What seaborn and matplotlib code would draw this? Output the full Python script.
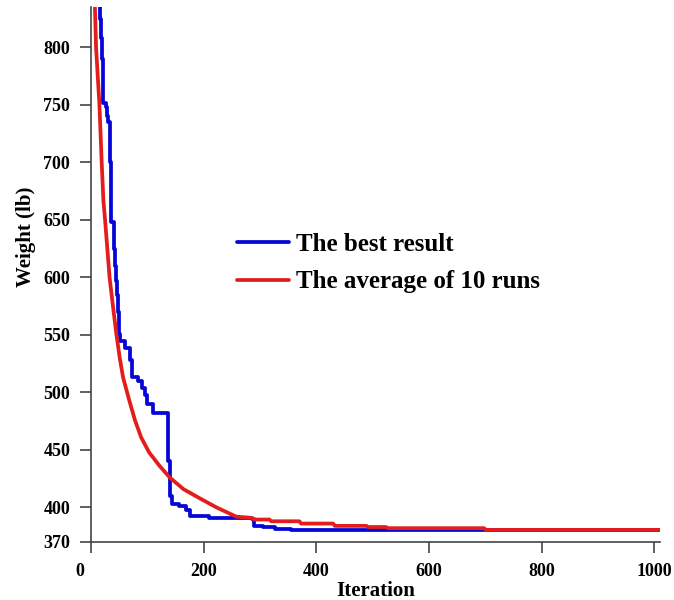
import matplotlib
matplotlib.use("Agg")
import matplotlib.pyplot as plt
import matplotlib.transforms as mtransforms
import pandas as pd
import seaborn as sns

# Best run: iteration at which each new best weight was found (step curve)
best_iter = [0, 14, 16, 18, 20, 21, 22, 26, 28, 30, 33, 36, 40, 42, 44, 46,
             48, 50, 52, 60, 69, 72, 84, 90, 96, 100, 110, 136, 140,
             143, 156, 168, 175, 210, 285, 290, 305, 326, 355, 1010]
best_weight = [900, 840, 825, 808, 790, 770, 752, 748, 740, 735, 700, 648,
               625, 610, 597, 585, 570, 551, 545, 539, 528, 513, 510, 504,
               498, 490, 482, 440, 410, 403, 401, 398, 393, 391, 390,
               384, 383, 381, 380, 380]

# Mean convergence over 10 independent runs
avg_iter = [5, 7, 9, 12, 15, 19, 22, 25, 29, 33, 39, 45, 51, 57, 68, 78,
            89, 103, 122, 140, 164, 193, 223, 258, 285, 290, 317, 320, 370,
            373, 430, 433, 489, 492, 524, 527, 698, 701, 1010]
avg_weight = [860, 835, 800, 775, 750, 700, 667, 650, 625, 600, 575, 551, 530,
              513, 493, 476, 461, 448, 436, 426, 416, 408, 400, 392, 391,
              389.5, 389.5, 388, 388, 386, 386, 384, 384, 383, 383, 382, 382,
              380.5, 380.5]

x_ticks = [0, 200, 400, 600, 800, 1000]
y_ticks = [370, 400, 450, 500, 550, 600, 650, 700, 750, 800]

sns.set_theme(style="ticks")
plt.rcParams["font.family"] = ["Liberation Serif", "DejaVu Serif"]
plt.rcParams["font.weight"] = "bold"
plt.rcParams["text.color"] = "black"
plt.rcParams["axes.labelcolor"] = "black"

fig = plt.figure(figsize=(6.74, 6.0), dpi=100)
ax = fig.add_axes([0.135, 0.0967, 0.844, 0.8915])

best_df = pd.DataFrame({"Iteration": best_iter, "Weight": best_weight})
avg_df = pd.DataFrame({"Iteration": avg_iter, "Weight": avg_weight})

sns.lineplot(data=best_df, x="Iteration", y="Weight", ax=ax, color="#0505d8",
             linewidth=2.7, drawstyle="steps-post", estimator=None, sort=False,
             label="The best result")
sns.lineplot(data=avg_df, x="Iteration", y="Weight", ax=ax, color="#e31c1c",
             linewidth=2.7, estimator=None, sort=False,
             label="The average of 10 runs")

ax.set_xlim(0, 1010)
ax.set_ylim(370, 835)
ax.set_xticks(x_ticks)
ax.set_yticks(y_ticks)

for side in ("top", "right"):
    ax.spines[side].set_visible(False)
for side in ("left", "bottom"):
    ax.spines[side].set_color("#444444")
    ax.spines[side].set_linewidth(1.2)

ax.tick_params(axis="both", direction="out", length=8, width=1.2,
               color="#444444", labelsize=13, labelcolor="black", pad=7)
for lbl in ax.get_xticklabels() + ax.get_yticklabels():
    lbl.set_fontweight("bold")

# shift the "0" label slightly left of its tick
zero_lbl = ax.get_xticklabels()[0]
zero_lbl.set_transform(zero_lbl.get_transform() +
                       mtransforms.ScaledTranslation(-8 / 72, 0, fig.dpi_scale_trans))

ax.set_xlabel("Iteration", fontsize=15, fontweight="bold", labelpad=1,
              color="black")
ax.set_ylabel("Weight (lb)", fontsize=15, fontweight="bold", color="black")
ax.yaxis.set_label_coords(-0.097, 0.57)

leg = ax.legend(loc="upper left", bbox_to_anchor=(0.256, 0.578), frameon=False,
                fontsize=18, handlelength=2.1, handletextpad=0.28,
                labelspacing=0.58, borderpad=0, borderaxespad=0)
for t in leg.get_texts():
    t.set_fontweight("bold")
    t.set_color("black")

fig.savefig("out.png", dpi=100)
